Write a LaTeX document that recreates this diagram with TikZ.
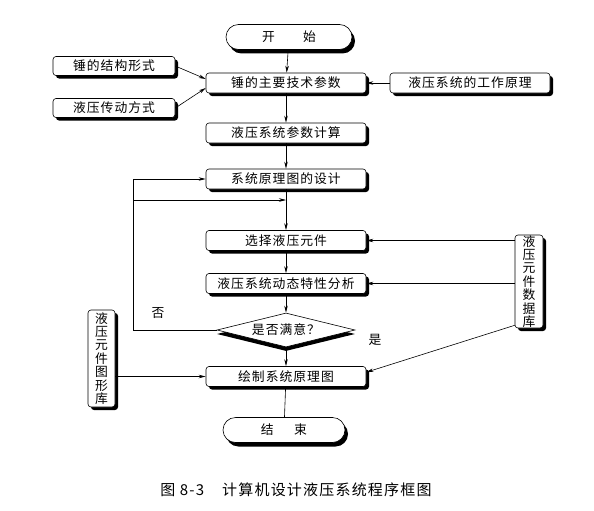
\documentclass[tikz,border=0pt]{standalone}
\usepackage{fontspec}
\newfontfamily\cjk[LetterSpace=8]{Noto Sans CJK SC}
\usetikzlibrary{shapes.geometric,shapes.misc,shadows,arrows.meta}
\begin{document}
\begin{tikzpicture}[x=1pt,y=-1pt,
  font=\cjk\fontsize{12.8}{14}\selectfont,
  line width=0.6pt,
  shd/.style={drop shadow={shadow xshift=3pt,shadow yshift=-3pt,fill=black,opacity=1}},
  box/.style={draw,fill=white,rounded corners=3pt,minimum width=160pt,minimum height=20pt,inner sep=0pt,shd},
  sbox/.style={box,minimum width=122pt,minimum height=19pt},
  vbox/.style={draw,fill=white,rounded corners=3pt,inner sep=0pt,align=center,shd,font=\cjk\fontsize{12.8}{13.4}\selectfont},
  term/.style={draw,fill=white,rounded rectangle,minimum height=25pt,inner sep=0pt,drop shadow={shadow xshift=3pt,shadow yshift=-4pt,fill=black,opacity=1}},
  dia/.style={draw,fill=white,diamond,aspect=4,minimum width=138pt,minimum height=34pt,inner sep=0pt,drop shadow={shadow xshift=0pt,shadow yshift=-4pt,fill=black,opacity=1}},
  arr/.style={-{Stealth[length=7pt,width=3.5pt]}},
  lbl/.style={font=\cjk\fontsize{12.8}{14}\selectfont}]
\useasboundingbox (0,0) rectangle (594,511);

\node[term,minimum width=126pt] (start) at (289,37) {开\hspace{2.2em}始};
\node[box] (main) at (286,83) {锤的主要技术参数};
\node[box] (calc) at (286,133) {液压系统参数计算};
\node[box] (design) at (286,179) {系统原理图的设计};
\node[box] (sel) at (286,240.5) {选择液压元件};
\node[box] (dyn) at (286,283.5) {液压系统动态特性分析};
\node[dia] (ok) at (286,330) {是否满意？};
\node[box] (drw) at (286,376.5) {绘制系统原理图};
\node[term,minimum width=122pt] (end) at (284,430) {结\hspace{1.6em}束};

\node[sbox] (struct) at (114,66) {锤的结构形式};
\node[sbox] (trans) at (114,108) {液压传动方式};
\node[box] (princ) at (470,83) {液压系统的工作原理};
\node[vbox,minimum width=27pt,minimum height=97pt] (lib) at (101.5,358.5) {液\\压\\元\\件\\图\\形\\库};
\node[vbox,minimum width=28pt,minimum height=93pt] (db) at (529,281.5) {液\\压\\元\\件\\数\\据\\库};

\node[lbl] (no) at (158,313) {否};
\node[lbl] (yes) at (375,340) {是};

\coordinate (fbA) at (133,330);
\coordinate (fbB) at (133,179);
\coordinate (fbC) at (133,200);
\coordinate (fbD) at (286,200);

\draw[arr] (start) -- (main);
\draw[arr] (main) -- (calc);
\draw[arr] (calc) -- (design);
\draw[arr] (design) -- (sel);
\draw[arr] (sel) -- (dyn);
\draw[arr] (dyn) -- (ok);
\draw[arr] (ok) -- (drw);
\draw (drw) -- (end);

\draw[arr] (struct.east) -- ([yshift=4pt]main.west);
\draw[arr] (trans.east) -- ([yshift=-5pt]main.west);
\draw[arr] (princ.west) -- (main.east);

\draw[arr] (ok.west) -- (fbA) -- (fbB) -- (design.west);
\draw[arr] (fbC) -- (fbD);

\draw[arr] (db.west |- sel) -- (sel.east);
\draw[arr] (db.west |- dyn) -- (dyn.east);
\draw[arr] ([yshift=3pt]db.south west) -- ([yshift=-6pt]drw.north east);
\draw[arr] (lib.east |- drw) -- (drw.west);

\node[font=\cjk\fontsize{15}{17}\selectfont] (cap) at (296,490) {图 8-3\hspace{1.2em}计算机设计液压系统程序框图};
\end{tikzpicture}
\end{document}
